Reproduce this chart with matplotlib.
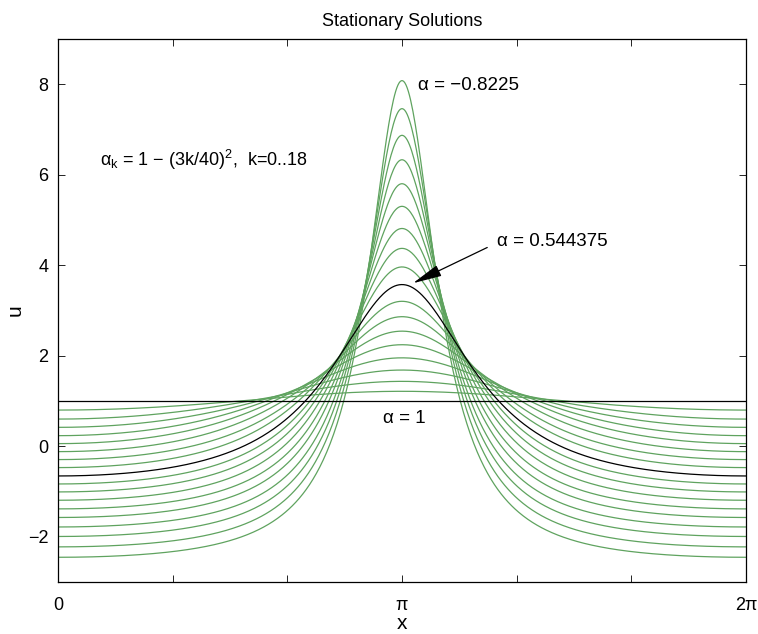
import numpy as np
import matplotlib
matplotlib.use("Agg")
import matplotlib.pyplot as plt

plt.rcParams['font.family'] = ['Liberation Sans', 'DejaVu Sans']
plt.rcParams['mathtext.fontset'] = 'custom'
plt.rcParams['mathtext.rm'] = 'Liberation Sans'
plt.rcParams['mathtext.it'] = 'Liberation Sans:italic'

# ---- data (k = 0..18) ----
k_values = list(range(19))
peak_u = [1.00, 1.21, 1.43, 1.68, 1.95, 2.24, 2.54, 2.86, 3.20, 3.57,
          3.96, 4.37, 4.81, 5.30, 5.80, 6.33, 6.87, 7.46, 8.08]
edge_u = [1.00, 0.795, 0.596, 0.413, 0.229, 0.053, -0.124, -0.300, -0.477, -0.662,
          -0.839, -1.015, -1.199, -1.39, -1.58, -1.79, -2.00, -2.23, -2.46]
# peak sharpness parameter of each profile (0 = cosine-like, ->1 = narrow)
sharpness = [0.0, 0.06, 0.11, 0.17, 0.22, 0.27, 0.32, 0.37, 0.41, 0.45,
             0.48, 0.51, 0.54, 0.57, 0.595, 0.62, 0.64, 0.66, 0.68]
black_k = [0, 9]

x_ticks = [0, np.pi/3, 2*np.pi/3, np.pi, 4*np.pi/3, 5*np.pi/3, 2*np.pi]
x_ticklabels = ['0', '', '', 'π', '', '', '2π']
y_ticks = [-2, 0, 2, 4, 6, 8]


def profile(x, r):
    d = x - np.pi
    if r < 1e-9:
        return (1 + np.cos(d)) / 2
    h = 1.0 / (1 + r**2 - 2*r*np.cos(d))
    h0 = 1.0 / (1 - r)**2
    hp = 1.0 / (1 + r)**2
    return (h - hp) / (h0 - hp)


fig = plt.figure(figsize=(7.58, 6.34), dpi=100)
ax = fig.add_axes([58/758, 1 - 581.7/634, (746-58)/758, (581.7-39)/634])

x = np.linspace(0, 2*np.pi, 600)
green = '#5fa35f'
for k in k_values:
    if k in black_k:
        continue
    u = edge_u[k] + (peak_u[k] - edge_u[k]) * profile(x, sharpness[k])
    ax.plot(x, u, color=green, lw=0.9)
for k in black_k:
    u = edge_u[k] + (peak_u[k] - edge_u[k]) * profile(x, sharpness[k])
    ax.plot(x, u, color='black', lw=0.9)

ax.set_xlim(0, 2*np.pi)
ax.set_ylim(-3, 9)
ax.set_xticks(x_ticks)
ax.set_xticklabels(x_ticklabels)
ax.set_yticks(y_ticks)
ax.set_yticklabels([str(v).replace('-', '\u2212') for v in y_ticks])
ax.tick_params(direction='in', length=5, width=0.6, top=True, right=True,
               labelsize=13)
ax.tick_params(axis='x', pad=11)
ax.tick_params(axis='y', pad=7)
for s in ax.spines.values():
    s.set_linewidth(0.9)

ax.set_title('Stationary Solutions', fontsize=13, pad=9)
ax.set_xlabel('x', fontsize=15, labelpad=0)
ax.set_ylabel('u', fontsize=15, labelpad=2)

ax.text(3.288, 7.98, 'α = \u22120.8225', fontsize=13.5, va='center', ha='left')
ax.text(0.384, 6.33, 'α$_{\\rm k}$ = 1 \u2212 (3k/40)$^2$,  k=0..18',
        fontsize=13, va='center', ha='left')
ax.text(4.01, 4.52, 'α = 0.544375', fontsize=13.5, va='center', ha='left')
ax.text(3.16, 0.60, 'α = 1', fontsize=13.5, va='center', ha='center')
ax.annotate('', xy=(np.pi + 0.10, 3.60), xytext=(3.92, 4.39),
            arrowprops=dict(arrowstyle='-|>,head_length=1.0,head_width=0.2',
                            color='black', lw=0.9,
                            mutation_scale=18, shrinkA=0, shrinkB=0))

fig.savefig('out.png', dpi=100)
